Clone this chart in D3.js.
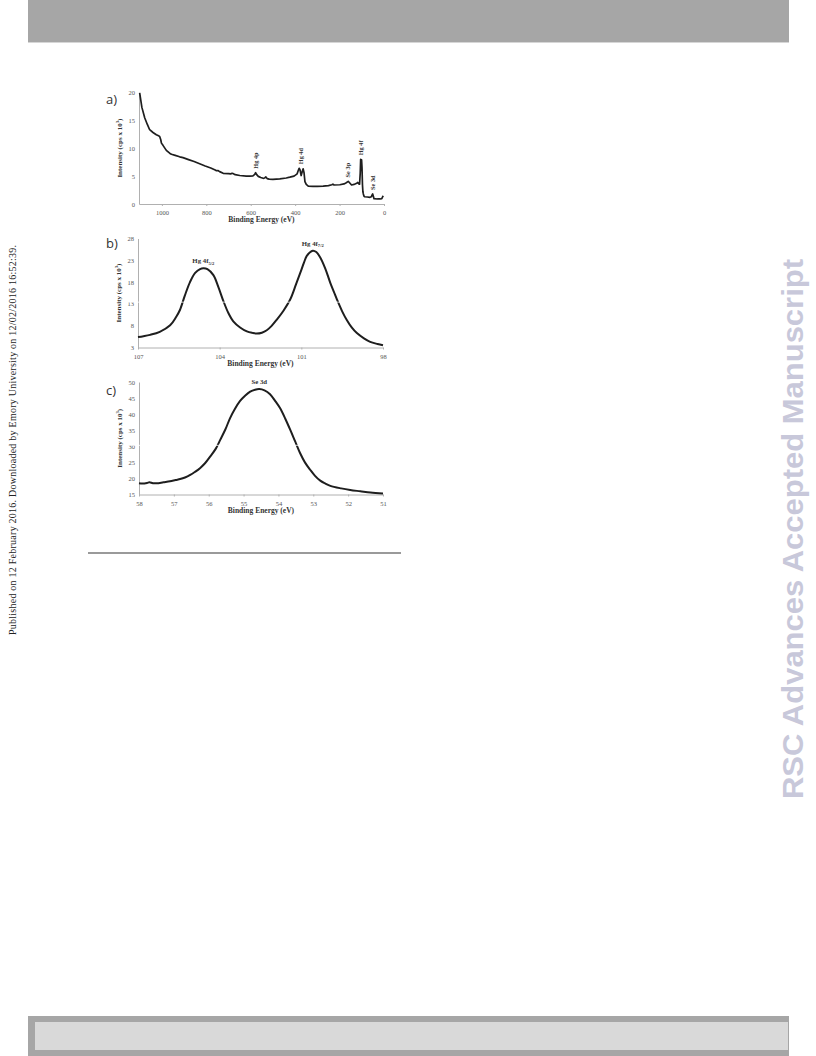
<!DOCTYPE html>
<html><head><meta charset="utf-8">
<script src="https://cdn.jsdelivr.net/npm/d3@7"></script>
<style>body{margin:0;background:#fff}svg{display:block}</style>
</head><body>
<script>
// ---------- data ----------
const aEnergy = [1100,1090,1077,1065,1055,1040,1025,1015,1010,1005,1002,995,980,965,957,940,920,905,880,855,830,805,780,760,754,748,740,724,700,690,684,680,670,649,620,604,590,582,578,574,566,555,544,538,532,526,517,500,469,440,424,405,391,386,382,378,373,368,364,360,356,350,341,320,300,274,250,235,230,225,199,180,170,161,155,146,135,123,118,113,110,107,105,103,101,99,97,95,93,90,87,75,63,57,54,51,48,45,30,18,10,6,3];
const aIntensity = [19.9,17.3,15.4,14.2,13.3,12.8,12.4,12.2,12.1,11.5,10.9,10.5,9.6,9.1,8.9,8.7,8.45,8.3,7.95,7.6,7.2,6.8,6.45,6.1,5.95,6.0,5.8,5.5,5.45,5.4,5.5,5.45,5.25,5.1,5.0,5.0,5.05,5.3,5.6,5.3,4.95,4.75,4.6,4.65,4.85,4.55,4.45,4.4,4.5,4.65,4.8,5.0,5.4,6.0,6.4,6.1,5.1,5.8,6.3,5.6,4.0,3.5,3.2,3.15,3.15,3.2,3.3,3.45,3.55,3.4,3.45,3.6,3.8,4.05,3.8,3.4,3.5,3.7,3.85,3.6,3.55,5.5,8.0,6.0,7.9,6.5,3.5,2.2,1.8,1.4,1.3,1.25,1.2,1.3,1.6,1.8,1.4,0.95,0.9,0.9,0.95,1.3,1.45];
const aTicksX = [1000,800,600,400,200,0];
const aTicksY = [0,5,10,15,20];
const aPeaks = [{label:"Hg 4p",e:578,v:5.6},{label:"Hg 4d",e:375,v:6.4},{label:"Se 3p",e:161,v:4.05},{label:"Hg 4f",e:103,v:8.0},{label:"Se 3d",e:51,v:1.8}];

const bEnergy = [107,106.8,106.56,106.2,105.82,105.6,105.46,105.28,105.09,104.9,104.72,104.6,104.45,104.23,104.05,103.86,103.68,103.5,103.25,103.0,102.8,102.64,102.45,102.27,102.1,101.9,101.65,101.41,101.2,101.04,100.9,100.8,100.58,100.45,100.31,100.12,99.94,99.8,99.69,99.5,99.33,99.15,98.96,98.7,98.47,98.2,98.0];
const bIntensity = [5.4,5.6,5.9,6.6,8.1,10.0,11.6,14.9,18.0,20.1,21.0,21.2,21.0,19.6,16.9,13.6,10.9,9.0,7.6,6.7,6.35,6.2,6.4,6.95,7.9,9.4,11.5,14.0,17.4,20.1,22.5,24.0,25.2,24.9,23.7,21.1,17.9,15.7,14.0,11.3,9.3,7.6,6.3,5.1,4.3,3.8,3.5];
const bTicksX = [107,104,101,98];
const bTicksY = [3,8,13,18,23,28];

const cEnergy = [58,57.9,57.77,57.7,57.6,57.49,57.3,57.11,56.95,56.82,56.68,56.53,56.4,56.25,56.1,55.96,55.8,55.67,55.52,55.39,55.25,55.1,54.95,54.81,54.67,54.55,54.4,54.24,54.1,53.95,53.8,53.66,53.52,53.38,53.24,53.09,52.95,52.8,52.65,52.51,52.2,51.94,51.65,51.36,51.0];
const cIntensity = [18.5,18.4,18.6,18.8,18.5,18.5,18.8,19.1,19.5,19.8,20.3,21.1,22.0,23.2,24.8,26.8,29.2,32.0,35.3,38.7,41.6,44.1,45.8,47.0,47.6,47.8,47.4,46.2,44.2,41.8,38.5,35.1,31.5,27.9,25.0,22.7,20.8,19.3,18.4,17.7,16.9,16.4,16.0,15.6,15.3];
const cTicksX = [58,57,56,55,54,53,52,51];
const cTicksY = [15,20,25,30,35,40,45,50];

// ---------- page ----------
const svg = d3.select("body").append("svg").attr("width",816).attr("height",1056);
svg.append("rect").attr("x",28).attr("y",0).attr("width",761).attr("height",42).attr("fill","#a6a6a6");
svg.append("line").attr("x1",28).attr("x2",789).attr("y1",42.5).attr("y2",42.5).attr("stroke","#d6d6d6");
svg.append("rect").attr("x",28).attr("y",1016).attr("width",761).attr("height",40).attr("fill","#a6a6a6");
svg.append("rect").attr("x",35).attr("y",1022).attr("width",753).attr("height",28).attr("fill","#d9d9d9");

svg.append("text").attr("transform","translate(16,440) rotate(-90)")
  .attr("text-anchor","middle").attr("font-family","Liberation Serif").attr("font-size",10).attr("fill","#222")
  .attr("textLength",390).text("Published on 12 February 2016. Downloaded by Emory University on 12/02/2016 16:52:39.");
svg.append("text").attr("transform","translate(803,529) rotate(-90)")
  .attr("text-anchor","middle").attr("font-family","Liberation Sans").attr("font-weight","bold").attr("font-size",29)
  .attr("fill","#c8c8da").attr("textLength",540).attr("lengthAdjust","spacingAndGlyphs")
  .text("RSC Advances Accepted Manuscript");

svg.append("line").attr("x1",88).attr("x2",401).attr("y1",553).attr("y2",553).attr("stroke","#9a9a9a").attr("stroke-width",2);

function panel(o){
  const g = svg.append("g");
  const x = d3.scaleLinear().domain(o.xd).range(o.xr);
  const y = d3.scaleLinear().domain(o.yd).range(o.yr);
  const ax = g.append("g").attr("transform",`translate(0,${o.yr[0]})`)
    .call(d3.axisBottom(x).tickValues(o.tx).tickSize(2).tickSizeOuter(0).tickFormat(d3.format("d")));
  const ay = g.append("g").attr("transform",`translate(${o.xr[0]},0)`)
    .call(d3.axisLeft(y).tickValues(o.ty).tickSize(0).tickSizeOuter(0).tickPadding(4));
  [ax,ay].forEach(a=>{
    a.attr("font-family","Liberation Serif");
    a.selectAll("path,line").attr("stroke","#b0b0b0");
    a.selectAll("text").attr("font-family","Liberation Serif").attr("font-size",6.5).attr("fill","#555");
  });
  ax.selectAll("text").attr("dy","0.95em");
  const data = o.e.map((e,i)=>[e,o.v[i]]);
  g.append("path").datum(data).attr("fill","none").attr("stroke","#1e1e1e").attr("stroke-width",o.sw)
    .attr("stroke-linejoin","round")
    .attr("d",d3.line().x(d=>x(d[0])).y(d=>y(d[1])).curve(o.curve));
  if(o.cut!==undefined){
    g.append("line").attr("x1",o.xr[0]-20).attr("x2",o.xr[1]).attr("y1",y(o.cut)).attr("y2",y(o.cut))
      .attr("stroke","#fff").attr("stroke-width",0.8);
  }
  g.append("text").attr("x",(o.xr[0]+o.xr[1])/2).attr("y",o.yr[0]+18).attr("text-anchor","middle")
    .attr("font-family","Liberation Serif").attr("font-weight","bold").attr("font-size",7.5).attr("fill","#333")
    .text("Binding Energy (eV)");
  const yt = g.append("text").attr("transform",`translate(${o.xr[0]-17},${(o.yr[0]+o.yr[1])/2}) rotate(-90)`)
    .attr("text-anchor","middle").attr("font-family","Liberation Serif").attr("font-weight","bold")
    .attr("font-size",7).attr("fill","#333");
  yt.append("tspan").text("Intensity (cps x 10");
  yt.append("tspan").attr("font-size",4.6).attr("dy",-2.8).text("3");
  yt.append("tspan").attr("dy",2.8).text(")");
  g.append("text").attr("x",o.lx).attr("y",o.ly).attr("font-family","Open Sans").attr("font-size",13)
    .attr("fill","#333").text(o.letter);
  return {g,x,y};
}

const A = panel({xd:[1103,0],xr:[139,384],yd:[0,20],yr:[204,92.3],tx:aTicksX,ty:aTicksY,e:aEnergy,v:aIntensity,
  sw:1.7,curve:d3.curveLinear,letter:"a)",lx:106,ly:104});
aPeaks.forEach(p=>{
  const px = A.x(p.e), py = A.y(p.v);
  A.g.append("text").attr("transform",`translate(${px+2},${py-4}) rotate(-90)`)
    .attr("font-family","Liberation Serif").attr("font-weight","bold").attr("font-size",6.3).attr("fill","#333")
    .text(p.label);
});

const B = panel({xd:[107,98],xr:[138,383],yd:[3,28],yr:[347.5,238.5],tx:bTicksX,ty:bTicksY,e:bEnergy,v:bIntensity,
  sw:2,curve:d3.curveCatmullRom.alpha(0.5),letter:"b)",lx:106,ly:248,cut:13.4});
[{t:"Hg 4f",s:"5/2",e:104.6,v:21.2},{t:"Hg 4f",s:"7/2",e:100.58,v:25.2}].forEach(p=>{
  const t = B.g.append("text").attr("x",B.x(p.e)).attr("y",B.y(p.v)-5).attr("text-anchor","middle")
    .attr("font-family","Liberation Serif").attr("font-weight","bold").attr("font-size",6.8).attr("fill","#333");
  t.append("tspan").text(p.t);
  t.append("tspan").attr("font-size",4.6).attr("dy",1.5).text(p.s);
});

const C = panel({xd:[58,51],xr:[139,383],yd:[15,50],yr:[494.5,382],tx:cTicksX,ty:cTicksY,e:cEnergy,v:cIntensity,
  sw:2,curve:d3.curveCatmullRom.alpha(0.5),letter:"c)",lx:106,ly:395,cut:30.3});
C.g.append("text").attr("x",C.x(54.55)).attr("y",C.y(47.8)-5).attr("text-anchor","middle")
  .attr("font-family","Liberation Serif").attr("font-weight","bold").attr("font-size",6.8).attr("fill","#333").text("Se 3d");
</script>
</body></html>
